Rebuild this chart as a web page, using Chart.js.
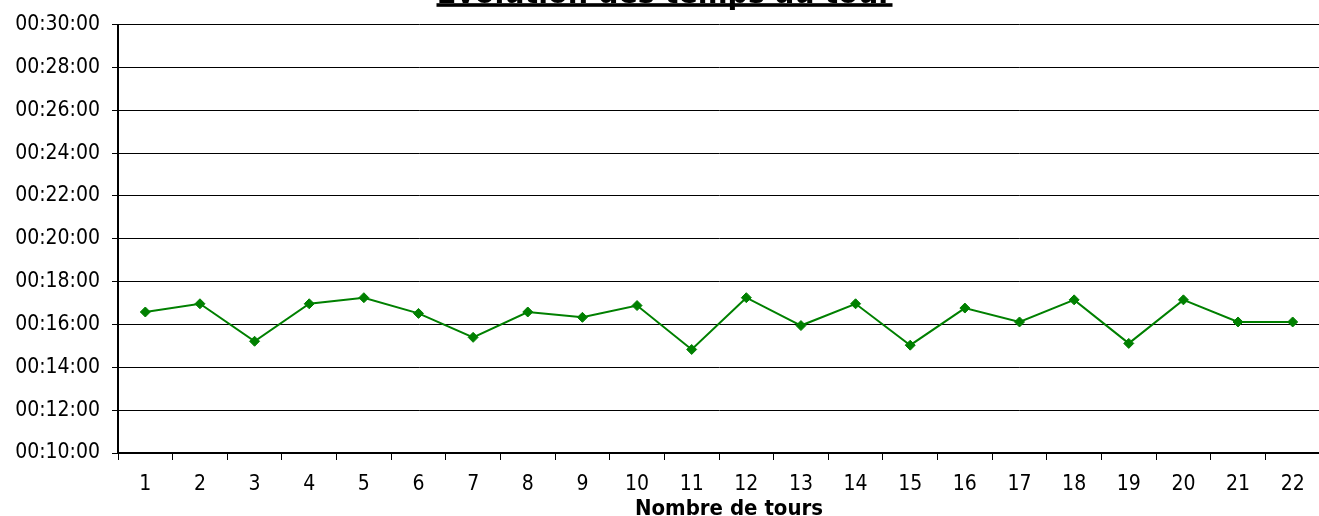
<!DOCTYPE html>
<html><head><meta charset="utf-8">
<script src="https://cdn.jsdelivr.net/npm/chart.js@4"></script>
<style>
html,body{margin:0;padding:0;overflow:hidden;background:#fff;width:1319px;height:516px}
#wrap{position:absolute;left:0;top:0;width:1326px;height:516px}
</style>
</head><body><div id="wrap"><canvas id="c" width="1326" height="516"></canvas></div>
<script>
const laps = ['1','2','3','4','5','6','7','8','9','10','11','12','13','14','15','16','17','18','19','20','21','22'];
const lapTimes = ['00:16:35','00:16:58','00:15:13','00:16:58','00:17:15','00:16:31','00:15:24','00:16:35','00:16:20','00:16:53','00:14:50','00:17:15','00:15:57','00:16:58','00:15:02','00:16:46','00:16:07','00:17:09','00:15:07','00:17:09','00:16:07','00:16:07'];
const yAxisMin = '00:10:00';
const yAxisMax = '00:30:00';
const yAxisStep = '00:02:00';
const chartTitle = 'Evolution des temps au tour';
const xAxisTitle = 'Nombre de tours';

function toSec(s){const p=s.split(':').map(Number);return p[0]*3600+p[1]*60+p[2];}
function pad(n){return String(n).padStart(2,'0');}
function fmt(v){const h=Math.floor(v/3600),m=Math.floor((v%3600)/60),s=Math.round(v%60);return pad(h)+':'+pad(m)+':'+pad(s);}

const FONT = "'DejaVu Sans Condensed', 'DejaVu Sans', sans-serif";

const titles = {
  id:'titles',
  afterDraw(chart){
    const ctx = chart.ctx;
    ctx.save();
    ctx.fillStyle='#000';
    ctx.textAlign='center';
    ctx.textBaseline='alphabetic';
    // chart title (clipped at the top edge, underlined)
    ctx.font = `bold 22px ${FONT}`;
    const w0 = ctx.measureText(chartTitle).width;
    const size = 22*456/w0;
    ctx.font = `bold ${size}px ${FONT}`;
    const cx = 664.5;
    ctx.fillText(chartTitle, cx, 2.6);
    ctx.fillRect(cx-228, 3.2, 456, 3.6);
    // x axis title
    ctx.font = `bold 22px ${FONT}`;
    const xs = chart.scales.x;
    ctx.fillText(xAxisTitle, 729, 515);
    ctx.restore();
  }
};

new Chart(document.getElementById('c'), {
  type:'line',
  data:{
    labels: laps,
    datasets:[{
      data: lapTimes.map(toSec),
      borderColor:'#008000',
      backgroundColor:'#008000',
      borderWidth:2,
      pointStyle:'rectRot',
      pointRadius:5,
      pointBackgroundColor:'#008000',
      pointBorderColor:'#008000',
      pointBorderWidth:1,
      tension:0,
      fill:false
    }]
  },
  options:{
    responsive:false,
    animation:false,
    devicePixelRatio:1,
    layout:{padding:{top:23,left:0,right:0,bottom:0}},
    plugins:{legend:{display:false},tooltip:{enabled:false},title:{display:false}},
    scales:{
      x:{
        offset:true,
        grid:{offset:true,drawOnChartArea:false,drawTicks:true,tickLength:7,color:'#000',lineWidth:1},
        border:{color:'#000',width:2},
        ticks:{color:'#000',font:{family:FONT,size:21},padding:12,maxRotation:0,autoSkip:false},
        title:{display:false,text:xAxisTitle},
        afterFit(s){s.height=63;}
      },
      y:{
        min:toSec(yAxisMin),
        max:toSec(yAxisMax),
        ticks:{stepSize:toSec(yAxisStep),callback:(v)=>fmt(v),color:'#000',font:{family:FONT,size:21},padding:12},
        grid:{color:'#000',lineWidth:1,tickLength:6,drawTicks:true},
        border:{color:'#000',width:2},
        afterFit(s){s.width=118;}
      }
    }
  },
  plugins:[titles]
});
</script>
</body></html>
